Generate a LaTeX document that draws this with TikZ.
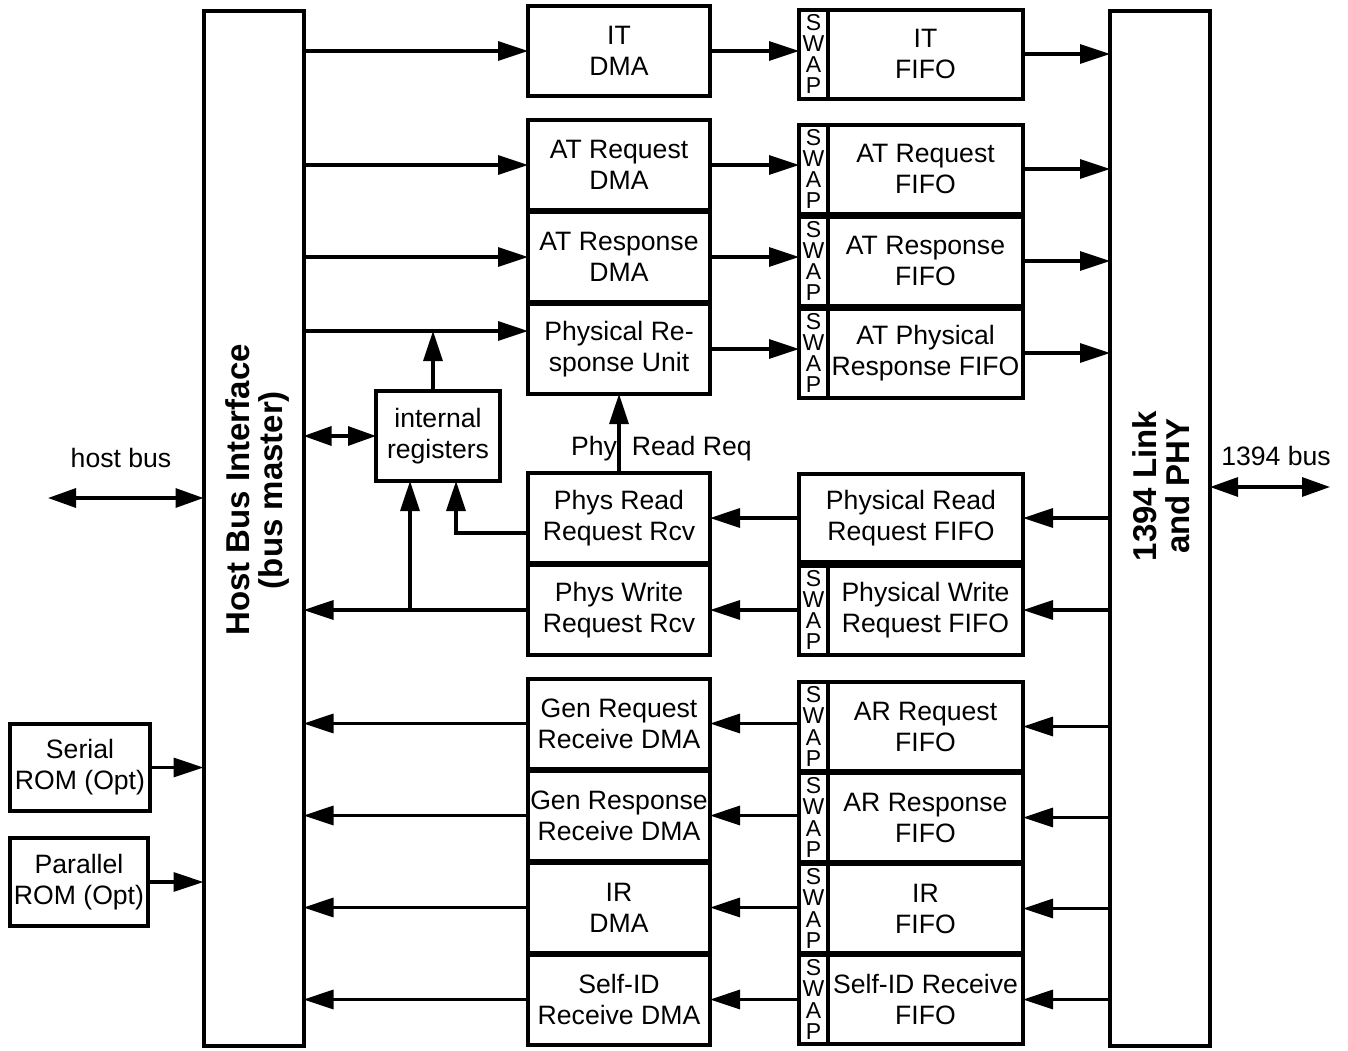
\documentclass[tikz,border=0pt]{standalone}
\usepackage{fontspec}
\setmainfont{Liberation Sans}
\usetikzlibrary{positioning,arrows.meta}
\tikzstyle{box}=[draw,line width=2pt,outer sep=0pt,inner sep=0pt,align=center]
\tikzstyle{dma}=[box,minimum width=91pt,minimum height=45pt]
\tikzstyle{fifo}=[box,minimum width=97.5pt,minimum height=44.5pt]
\tikzstyle{swapbox}=[box,minimum width=14.5pt,minimum height=44.5pt,font=\fontsize{11.5}{10.6}\selectfont]
\tikzstyle{bus}=[box,minimum width=50pt,minimum height=517.5pt]
\tikzstyle{bustext}=[rotate=90,align=center,font=\bfseries\fontsize{16.5}{16.5}\selectfont]
\tikzstyle{arr}=[line width=1.6pt,-{Triangle[length=15pt,width=9.5pt]}]
\tikzstyle{dbl}=[line width=1.6pt,{Triangle[length=14pt,width=9.5pt]}-{Triangle[length=14pt,width=9.5pt]}]

\begin{document}
\begin{tikzpicture}[x=0.5pt,y=-0.5pt,node distance=46pt,font=\fontsize{13.3}{15.5}\selectfont]
  \useasboundingbox (0,0) rectangle (1348,1050);
  \node[bus] (hbi) at (253.5,528.5) {};
  \node[bustext] (hbit) at (257,490) {Host Bus Interface\\(bus master)};
  \node[bus] (link) at (1160,528.5) {};
  \node[bustext] (linkt) at (1161,486) {1394 Link\\and PHY};
  \node[dma] (itd) at (619,51) {IT\\DMA};
  \node[dma] (atqd) at (619,165) {AT Request\\DMA};
  \node[dma,below of=atqd] (atsd) {AT Response\\DMA};
  \node[dma,below of=atsd] (pru) {Physical Re-\\sponse Unit};
  \node[dma] (prr) at (619,518) {Phys Read\\Request Rcv};
  \node[dma,below of=prr] (pwr) {Phys Write\\Request Rcv};
  \node[dma] (grq) at (619,723.5) {Gen Request\\Receive DMA};
  \node[dma,below of=grq] (grs) {Gen Response\\Receive DMA};
  \node[dma,below of=grs] (ird) {IR\\DMA};
  \node[dma,below of=ird] (sidd) {Self-ID\\Receive DMA};
  \node[fifo] (itf) at (925.5,54) {IT\\FIFO};
  \node[fifo] (atqf) at (925.5,169) {AT Request\\FIFO};
  \node[fifo,below of=atqf] (atsf) {AT Response\\FIFO};
  \node[fifo,below of=atsf] (atpf) {AT Physical\\Response FIFO};
  \node[box,minimum width=112pt,minimum height=44pt] (prf) at (911,518) {Physical Read\\Request FIFO};
  \node[fifo] (pwf) at (925.5,610) {Physical Write\\Request FIFO};
  \node[fifo] (arqf) at (925.5,726.5) {AR Request\\FIFO};
  \node[fifo,below of=arqf,node distance=45.5pt] (arsf) {AR Response\\FIFO};
  \node[fifo,below of=arsf,node distance=45.5pt] (irf) {IR\\FIFO};
  \node[fifo,below of=irf,node distance=45.5pt] (sidf) {Self-ID Receive\\FIFO};
  \node[swapbox,left=0pt of itf] (its) {S\\W\\A\\P};
  \node[swapbox,left=0pt of atqf] (atqs) {S\\W\\A\\P};
  \node[swapbox,left=0pt of atsf] (atss) {S\\W\\A\\P};
  \node[swapbox,left=0pt of atpf] (atps) {S\\W\\A\\P};
  \node[swapbox,left=0pt of pwf] (pws) {S\\W\\A\\P};
  \node[swapbox,left=0pt of arqf] (arqs) {S\\W\\A\\P};
  \node[swapbox,left=0pt of arsf] (arss) {S\\W\\A\\P};
  \node[swapbox,left=0pt of irf] (irs) {S\\W\\A\\P};
  \node[swapbox,left=0pt of sidf] (sids) {S\\W\\A\\P};
  \node[box,minimum width=62pt,minimum height=45pt] (ireg) at (438,436) {internal\\registers};
  \node[box,minimum width=70pt,minimum height=43.5pt] (srom) at (80,767.5) {Serial\\ROM (Opt)};
  \node[box,minimum width=69pt,minimum height=44pt] (prom) at (79,882) {Parallel\\ROM (Opt)};
  \node[anchor=base] (hbl) at (121,467) {host bus};
  \node[anchor=base] (fbl) at (1276,465) {1394 bus};
  \node[anchor=base west] (prq) at (564,455) {Phy\hspace{7.5pt}Read Req};
  \coordinate (hb) at (48,498);
  \coordinate (fb) at (1330,487);
  \coordinate (j) at (433,331);
  \coordinate (b1) at (410,0);
  \coordinate (b2) at (456,533);
  \draw[arr] (hbi.east |- itd) -- (itd.west);
  \draw[arr] (hbi.east |- atqd) -- (atqd.west);
  \draw[arr] (hbi.east |- atsd) -- (atsd.west);
  \draw[arr] (hbi.east |- j) -- (pru.west |- j);
  \draw[arr] (ireg.north -| j) -- (j);
  \draw[dbl] (hbi.east |- ireg) -- (ireg.west);
  \draw[arr] (itd.east) -- (itd.east -| its.west);
  \draw[arr] (atqd.east) -- (atqd.east -| atqs.west);
  \draw[arr] (atsd.east) -- (atsd.east -| atss.west);
  \draw[arr] (pru.east) -- (pru.east -| atps.west);
  \draw[arr] (itf.east) -- (itf.east -| link.west);
  \draw[arr] (atqf.east) -- (atqf.east -| link.west);
  \draw[arr] (atsf.east) -- (atsf.east -| link.west);
  \draw[arr] (atpf.east) -- (atpf.east -| link.west);
  \draw[arr] (link.west |- prf) -- (prf.east);
  \draw[arr] (link.west |- pwf) -- (pwf.east);
  \draw[arr] (link.west |- arqf) -- (arqf.east);
  \draw[arr] (link.west |- arsf) -- (arsf.east);
  \draw[arr] (link.west |- irf) -- (irf.east);
  \draw[arr] (link.west |- sidf) -- (sidf.east);
  \draw[arr] (prf.west |- prr) -- (prr.east);
  \draw[arr] (pws.west |- pwr) -- (pwr.east);
  \draw[arr] (arqs.west |- grq) -- (grq.east);
  \draw[arr] (arss.west |- grs) -- (grs.east);
  \draw[arr] (irs.west |- ird) -- (ird.east);
  \draw[arr] (sids.west |- sidd) -- (sidd.east);
  \draw[arr] (pwr.west) -- (pwr.west -| hbi.east);
  \draw[arr] (grq.west) -- (grq.west -| hbi.east);
  \draw[arr] (grs.west) -- (grs.west -| hbi.east);
  \draw[arr] (ird.west) -- (ird.west -| hbi.east);
  \draw[arr] (sidd.west) -- (sidd.west -| hbi.east);
  \draw[arr] (pwr.west -| b1) -- (ireg.south -| b1);
  \draw[arr] (prr.west |- b2) -- (b2) -- (ireg.south -| b2);
  \draw[arr] (prr.north) -- (pru.south);
  \draw[arr] (srom.east) -- (srom.east -| hbi.west);
  \draw[arr] (prom.east) -- (prom.east -| hbi.west);
  \draw[dbl] (hb) -- (hb -| hbi.west);
  \draw[dbl] (link.east |- fb) -- (fb);
\end{tikzpicture}
\end{document}
